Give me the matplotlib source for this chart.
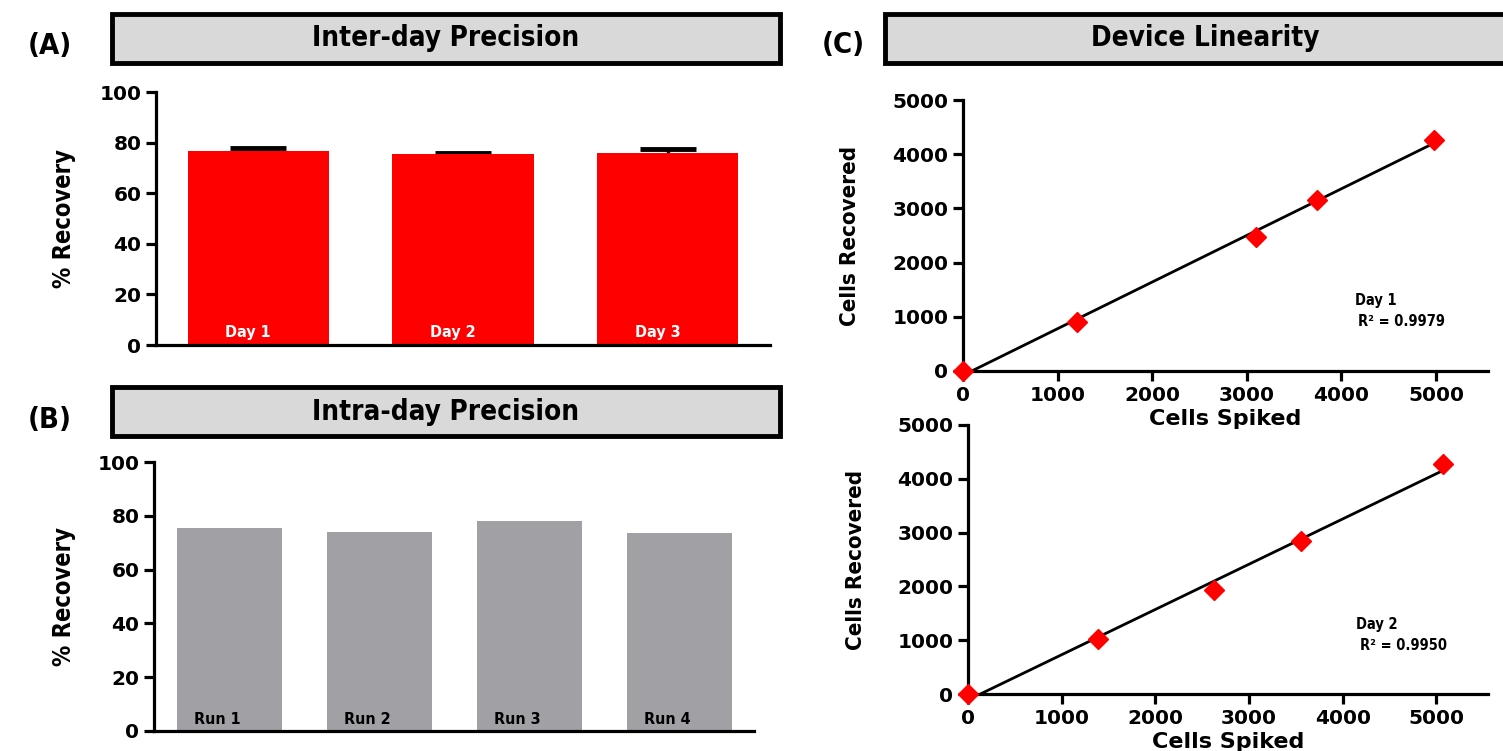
import numpy as np
import matplotlib
matplotlib.use("Agg")
from matplotlib import pyplot as plt
from matplotlib import font_manager
from matplotlib.patches import Rectangle

# %% data
days = ["Day 1", "Day 2", "Day 3"]
inter_recovery = [76.7, 75.4, 75.8]
inter_err = [1.3, 0.6, 1.8]

runs = ["Run 1", "Run 2", "Run 3", "Run 4"]
intra_recovery = [75.3, 74.1, 77.9, 73.5]

day1_spiked = [0, 1205, 3095, 3740, 4975]
day1_recovered = [0, 900, 2480, 3150, 4270]
day1_r2 = "0.9979"

day2_spiked = [0, 1390, 2630, 3550, 5070]
day2_recovered = [0, 1030, 1930, 2850, 4270]
day2_r2 = "0.9950"

lin_ticks = [0, 1000, 2000, 3000, 4000, 5000]
pct_ticks = [0, 20, 40, 60, 80, 100]

# %% fonts: look for a narrow bold face, else condensed DejaVu
names = {f.name for f in font_manager.fontManager.ttflist}
if "Liberation Sans Narrow" in names:
    NARROW = dict(family=["Liberation Sans Narrow", "DejaVu Sans"])
else:
    NARROW = dict(family=["DejaVu Sans"], fontstretch="condensed")
WIDE = ["DejaVu Sans"]
W, H = 1503, 751

fig = plt.figure(figsize=(15.03, 7.51), dpi=100)


def px_axes(l, t, r, b):
    ax = fig.add_axes([l / W, 1 - b / H, (r - l) / W, (b - t) / H])
    ax.patch.set_visible(False)
    return ax


def style_axes(ax, xticks=True):
    for s in ["top", "right"]:
        ax.spines[s].set_visible(False)
    for s in ["left", "bottom"]:
        ax.spines[s].set_linewidth(2.3)
    ax.tick_params(axis="y", length=7, width=2.3, labelsize=14.5)
    if xticks:
        ax.tick_params(axis="x", length=7, width=2.3, labelsize=14.5)
    else:
        ax.tick_params(axis="x", length=0, labelbottom=False)
    for lab in ax.get_xticklabels() + ax.get_yticklabels():
        lab.set_fontweight("bold")
        lab.set_family(WIDE)


def title_box(l, t, r, b, text, tx, label, lx, ly):
    fig.patches.append(Rectangle((l / W, 1 - b / H), (r - l) / W, (b - t) / H,
                                 transform=fig.transFigure, facecolor="#d9d9d9",
                                 edgecolor="black", linewidth=3.5))
    fig.text(tx / W, 1 - (t + b) / 2 / H, text, ha="center", va="center",
             fontsize=20, fontweight="bold", **NARROW)
    fig.text(lx / W, 1 - ly / H, label, ha="center", va="center",
             fontsize=21, fontweight="bold", **NARROW)


# %% (A) inter-day
title_box(112, 14, 780, 63, "Inter-day Precision", 446, "(A)", 50, 46)
axA = px_axes(156, 92, 770, 345)
xa = np.arange(len(days))
axA.errorbar(xa, inter_recovery, yerr=inter_err, fmt="none", ecolor="black",
             elinewidth=2.5, capsize=20, capthick=3.5, zorder=1)
axA.bar(xa, inter_recovery, width=0.69, color="#ff0000", zorder=2)
for x, d in zip(xa, days):
    axA.text(x - 0.05, 5, d, ha="center", va="center", color="white",
             fontsize=11.5, fontweight="bold", zorder=3, **NARROW)
axA.set_xlim(-0.5, 2.5)
axA.set_ylim(0, 100)
axA.set_yticks(pct_ticks)
axA.set_xticks([])
axA.set_ylabel("% Recovery", fontsize=17, fontweight="bold", **NARROW)
axA.yaxis.set_label_coords(-0.13, 0.5)
style_axes(axA, xticks=False)

# %% (B) intra-day
title_box(112, 387, 780, 436, "Intra-day Precision", 446, "(B)", 50, 420)
axB = px_axes(154, 462, 754, 731)
xb = np.arange(len(runs))
axB.bar(xb, intra_recovery, width=0.70, color="#a1a0a5")
for x, r in zip(xb, runs):
    axB.text(x - 0.08, 4.2, r, ha="center", va="center", color="black",
             fontsize=11.5, fontweight="bold", **NARROW)
axB.set_xlim(-0.5, 3.5)
axB.set_ylim(0, 100)
axB.set_yticks(pct_ticks)
axB.set_xticks([])
axB.set_ylabel("% Recovery", fontsize=17, fontweight="bold", **NARROW)
axB.yaxis.set_label_coords(-0.13, 0.5)
style_axes(axB, xticks=False)

# %% (C) linearity
title_box(885, 14, 1520, 63, "Device Linearity", 1205, "(C)", 843, 45)


def lin_panel(rect, xs, ys, day, r2, xlab_y):
    ax = px_axes(*rect)
    slope, icpt = np.polyfit(xs, ys, 1)
    xl = np.array([0, max(xs)])
    ax.plot(xl, slope * xl + icpt, color="black", linewidth=2)
    ax.plot(xs, ys, linestyle="none", marker="D", markersize=10,
            color="#ff0000", clip_on=False, zorder=3)
    ax.set_xlim(0, 5550)
    ax.set_ylim(0, 5000)
    ax.set_xticks(lin_ticks)
    ax.set_yticks(lin_ticks)
    ax.set_xlabel("Cells Spiked", fontsize=16, fontweight="bold", family=WIDE)
    ax.xaxis.set_label_coords(0.5, xlab_y)
    ax.set_ylabel("Cells Recovered", fontsize=16, fontweight="bold", **NARROW)
    ax.yaxis.set_label_coords(-0.197, 0.5)
    ax.text(4140, 1300, day, fontsize=10.5, fontweight="bold",
            va="center", ha="left", **NARROW)
    ax.text(4180, 910, "R\u00b2 = " + r2, fontsize=10.5, fontweight="bold",
            va="center", ha="left", **NARROW)
    style_axes(ax)
    return ax


lin_panel((963, 100, 1488, 371), day1_spiked, day1_recovered, "Day 1", day1_r2, -0.14)
lin_panel((968, 425, 1488, 694), day2_spiked, day2_recovered, "Day 2", day2_r2, -0.14)

fig.savefig("out.png", dpi=100)
